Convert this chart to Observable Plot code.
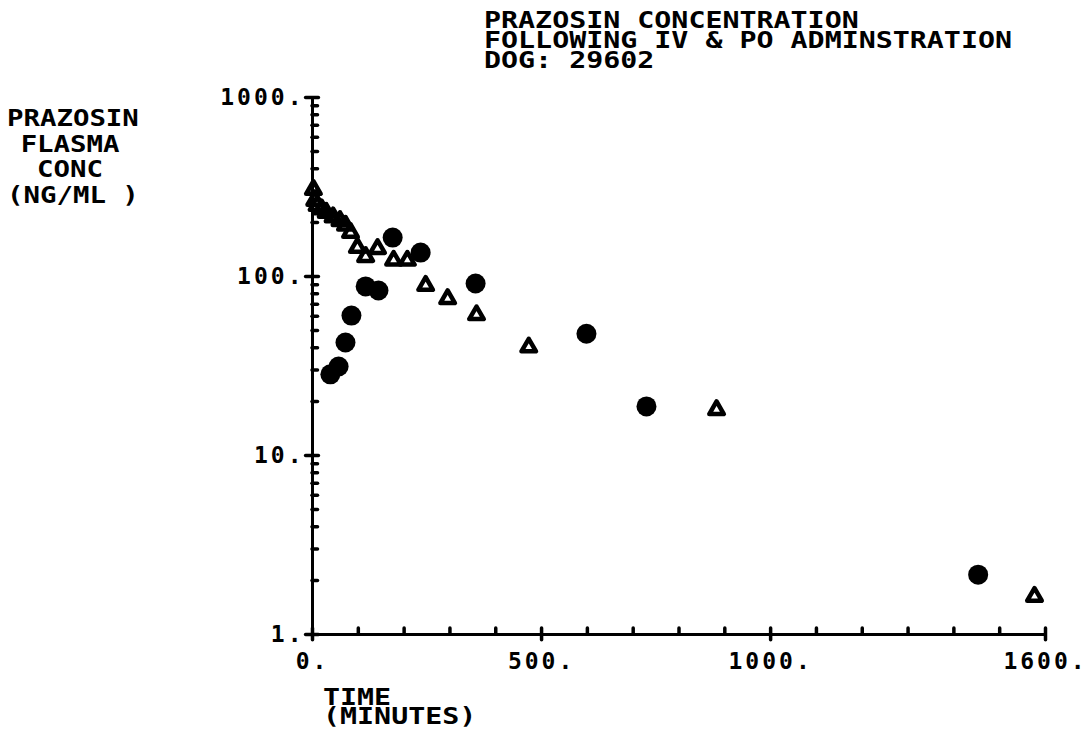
<!DOCTYPE html>
<html>
<head>
<meta charset="utf-8">
<script src="https://cdn.jsdelivr.net/npm/d3@7"></script>
<script src="https://cdn.jsdelivr.net/npm/@observablehq/plot@0.6"></script>
<style>
  html, body { margin: 0; padding: 0; background: #fff; }
  #wrap { position: relative; width: 1088px; height: 740px; overflow: hidden; }
  #wrap svg { position: absolute; left: 0; top: 0; }
  .lbl { position: absolute; font: bold 23px "DejaVu Sans Mono", monospace; color: #000;
         transform: scaleX(1.23); transform-origin: left top; white-space: pre; line-height: 19px; }
</style>
</head>
<body>
<div id="wrap">
  <div class="lbl" style="left:484px; top:10px; line-height:20px;">PRAZOSIN CONCENTRATION
FOLLOWING IV &amp; PO ADMINSTRATION
DOG: 29602</div>
  <div class="lbl" style="left:7px; top:106px; width:106px; text-align:center; line-height:25.5px; transform:scaleX(1.19);">PRAZOSIN
FLASMA
CONC
(NG/ML )</div>
  <div class="lbl" style="left:323px; top:688px;">TIME
(MINUTES)</div>
</div>
<script>
// IV administration (open triangles): time (min), concentration (ng/mL)
const ivTime = [2, 5, 10, 20, 30, 45, 60, 72, 83, 98, 116, 142, 177, 207, 247, 295, 358, 472, 882, 1576];
const ivConc = [306, 266, 249, 238, 228, 215, 205, 193, 176, 145, 129, 143, 123, 123, 89, 75, 61, 40.3, 18, 1.63];
// PO administration (filled circles)
const poTime = [39, 57, 72, 85, 116, 144, 175, 236, 356, 598, 729, 1453];
const poConc = [28.4, 31.4, 42.8, 60.5, 88, 83.5, 165, 136, 91.4, 47.9, 18.8, 2.16];
// axis ticks
const xLabelTicks = [0, 500, 1000, 1600];
const xMajorTicks = [0, 500, 1000, 1600];
const xMinorTicks = [100, 200, 300, 400, 600, 700, 800, 900, 1100, 1200, 1300, 1400, 1500];
const yLabelTicks = [1, 10, 100, 1000];
const yMinorTicks = [2,3,4,5,6,7,8,9, 20,30,40,50,60,70,80,90, 200,300,400,500,600,700,800,900];

const iv = ivTime.map((t, i) => ({t, c: ivConc[i]}));
const po = poTime.map((t, i) => ({t, c: poConc[i]}));

const chart = Plot.plot({
  width: 1088,
  height: 740,
  marginLeft: 312,
  marginRight: 43,
  marginTop: 97,
  marginBottom: 106,
  style: {fontFamily: "'DejaVu Sans Mono', monospace", fontSize: "23px", fontWeight: "bold", color: "#000", background: "#fff", letterSpacing: "3px"},
  x: {domain: [0, 1600], ticks: xLabelTicks, tickFormat: d => d + ".", tickSize: 0, tickPadding: 18, label: null},
  y: {type: "log", domain: [1, 1000], ticks: yLabelTicks, tickFormat: d => d + ".", tickSize: 0, tickPadding: 8, label: null},
  marks: [
    Plot.ruleX([0], {y1: 1, y2: 1000, stroke: "#000", strokeWidth: 3}),
    Plot.ruleY([1], {x1: 0, x2: 1600, stroke: "#000", strokeWidth: 3}),
    Plot.ruleY(yLabelTicks, {x1: -14, x2: 14, stroke: "#000", strokeWidth: 3.5, strokeLinecap: "round"}),
    Plot.ruleY(yMinorTicks, {x1: 0, x2: 12, stroke: "#000", strokeWidth: 3.5, strokeLinecap: "round"}),
    Plot.ruleX(xMajorTicks, {y1: 0.93, y2: 1.08, stroke: "#000", strokeWidth: 3.5, strokeLinecap: "round"}),
    Plot.ruleX(xMinorTicks, {y1: 1, y2: 1.08, stroke: "#000", strokeWidth: 3.5, strokeLinecap: "round"}),
    Plot.dot(iv, {x: "t", y: "c", symbol: "triangle", r: 5.4, stroke: "#000", strokeWidth: 4.5, fill: "none", strokeLinejoin: "round"}),
    Plot.dot(po, {x: "t", y: "c", symbol: "circle", r: 10, fill: "#000", stroke: "none"})
  ]
});
document.getElementById("wrap").prepend(chart);
</script>
</body>
</html>
